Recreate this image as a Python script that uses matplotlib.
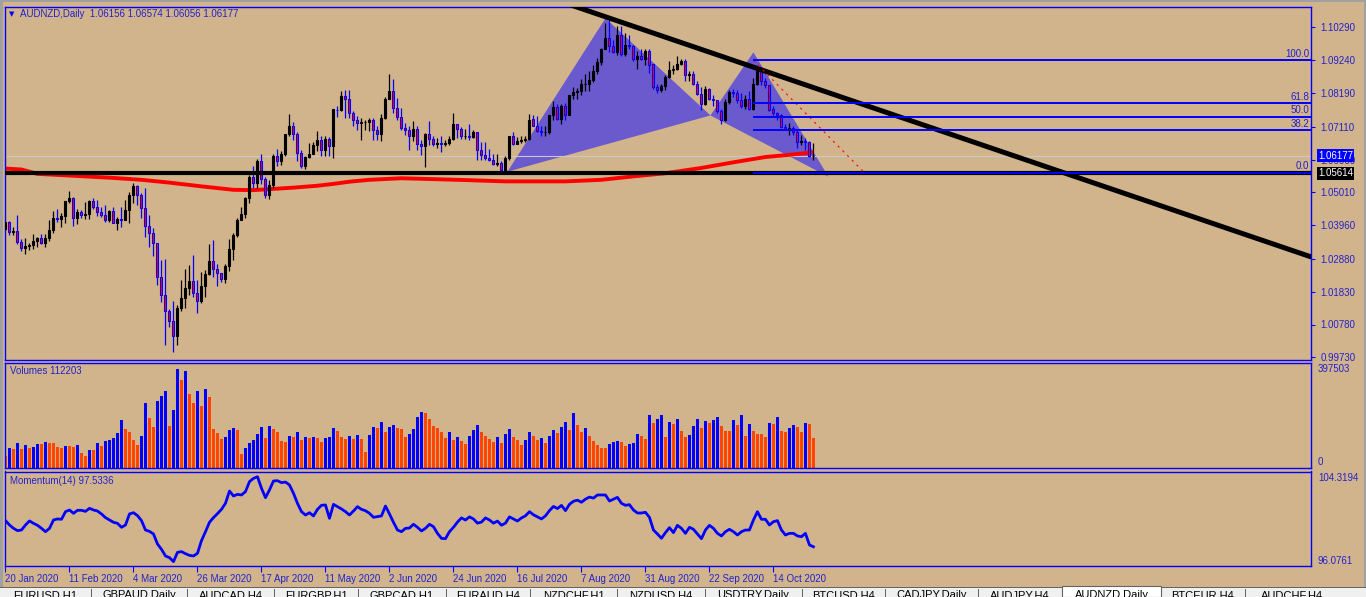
import numpy as np
import matplotlib.pyplot as plt
from matplotlib.patches import Polygon, Rectangle

plt.rcParams['font.family'] = ['Liberation Sans', 'DejaVu Sans']

# AUDNZD daily candles, 20 Jan 2020 .. 28 Oct 2020 (open = previous close)
first_open = 1.0383
closes = [
    1.0405, 1.0375, 1.0377, 1.0343, 1.0324, 1.0329, 1.0332, 1.0345, 1.0354, 1.0340,
    1.0356, 1.0380, 1.0418, 1.0416, 1.0425, 1.0473, 1.0484, 1.0420, 1.0439, 1.0427,
    1.0431, 1.0473, 1.0455, 1.0439, 1.0428, 1.0412, 1.0441, 1.0404, 1.0415, 1.0411,
    1.0444, 1.0493, 1.0522, 1.0493, 1.0450, 1.0394, 1.0372, 1.0340, 1.0230, 1.0172,
    1.0121, 1.0089, 1.0040, 1.0132, 1.0164, 1.0196, 1.0217, 1.0180, 1.0153, 1.0201,
    1.0241, 1.0281, 1.0257, 1.0244, 1.0223, 1.0265, 1.0321, 1.0364, 1.0412, 1.0432,
    1.0482, 1.0551, 1.0530, 1.0602, 1.0543, 1.0493, 1.0525, 1.0618, 1.0600, 1.0624,
    1.0688, 1.0714, 1.0688, 1.0626, 1.0586, 1.0614, 1.0624, 1.0653, 1.0669, 1.0635,
    1.0671, 1.0648, 1.0766, 1.0763, 1.0810, 1.0800, 1.0755, 1.0733, 1.0723, 1.0725,
    1.0725, 1.0733, 1.0701, 1.0688, 1.0739, 1.0800, 1.0826, 1.0771, 1.0742, 1.0707,
    1.0701, 1.0682, 1.0703, 1.0656, 1.0650, 1.0689, 1.0672, 1.0656, 1.0659, 1.0656,
    1.0659, 1.0672, 1.0718, 1.0704, 1.0680, 1.0680, 1.0678, 1.0693, 1.0637, 1.0621,
    1.0611, 1.0605, 1.0592, 1.0595, 1.0571, 1.0611, 1.0680, 1.0656, 1.0666, 1.0670,
    1.0672, 1.0734, 1.0714, 1.0696, 1.0693, 1.0695, 1.0747, 1.0773, 1.0736, 1.0777,
    1.0747, 1.0811, 1.0821, 1.0825, 1.0848, 1.0849, 1.0860, 1.0889, 1.0918, 1.0961,
    1.0996, 1.0969, 1.0950, 1.1003, 1.0942, 1.0971, 1.0969, 1.0928, 1.0937, 1.0928,
    1.0953, 1.0910, 1.0839, 1.0828, 1.0841, 1.0871, 1.0894, 1.0896, 1.0913, 1.0921,
    1.0875, 1.0878, 1.0849, 1.0817, 1.0782, 1.0830, 1.0800, 1.0796, 1.0760, 1.0734,
    1.0789, 1.0821, 1.0819, 1.0796, 1.0777, 1.0798, 1.0768, 1.0849, 1.0889, 1.0857,
    1.0843, 1.0766, 1.0755, 1.0747, 1.0710, 1.0704, 1.0708, 1.0693, 1.0661, 1.0666,
    1.0663, 1.06156, 1.06177,
]
highs = [
    1.0407, 1.0409, 1.0391, 1.0428, 1.0351, 1.0354, 1.0340, 1.0367, 1.0359, 1.0367,
    1.0367, 1.0412, 1.0441, 1.0448, 1.0434, 1.0473, 1.0505, 1.0487, 1.0448, 1.0444,
    1.0471, 1.0477, 1.0482, 1.0477, 1.0455, 1.0461, 1.0444, 1.0455, 1.0421, 1.0455,
    1.0477, 1.0503, 1.0532, 1.0525, 1.0498, 1.0514, 1.0428, 1.0386, 1.0337, 1.0286,
    1.0287, 1.0129, 1.0153, 1.0140, 1.0220, 1.0257, 1.0268, 1.0300, 1.0220, 1.0247,
    1.0252, 1.0334, 1.0348, 1.0273, 1.0241, 1.0273, 1.0351, 1.0372, 1.0420, 1.0455,
    1.0487, 1.0557, 1.0584, 1.0608, 1.0624, 1.0551, 1.0541, 1.0624, 1.0639, 1.0632,
    1.0688, 1.0753, 1.0725, 1.0693, 1.0635, 1.0616, 1.0658, 1.0661, 1.0698, 1.0680,
    1.0682, 1.0678, 1.0766, 1.0778, 1.0826, 1.0830, 1.0828, 1.0762, 1.0744, 1.0739,
    1.0731, 1.0739, 1.0739, 1.0714, 1.0753, 1.0806, 1.0880, 1.0862, 1.0803, 1.0771,
    1.0723, 1.0712, 1.0728, 1.0712, 1.0670, 1.0691, 1.0728, 1.0682, 1.0675, 1.0682,
    1.0670, 1.0680, 1.0755, 1.0721, 1.0710, 1.0704, 1.0718, 1.0702, 1.0680, 1.0661,
    1.0662, 1.0640, 1.0623, 1.0625, 1.0600, 1.0616, 1.0682, 1.0693, 1.0677, 1.0680,
    1.0680, 1.0753, 1.0747, 1.0744, 1.0712, 1.0714, 1.0750, 1.0793, 1.0782, 1.0782,
    1.0787, 1.0814, 1.0839, 1.0835, 1.0862, 1.0878, 1.0889, 1.0910, 1.0932, 1.0964,
    1.1044, 1.1055, 1.0990, 1.1033, 1.1033, 1.1012, 1.1003, 1.0974, 1.0953, 1.0958,
    1.0958, 1.0958, 1.0910, 1.0849, 1.0849, 1.0875, 1.0921, 1.0910, 1.0937, 1.0928,
    1.0928, 1.0889, 1.0889, 1.0857, 1.0839, 1.0841, 1.0835, 1.0811, 1.0793, 1.0768,
    1.0798, 1.0830, 1.0832, 1.0830, 1.0819, 1.0814, 1.0825, 1.0867, 1.0905, 1.0900,
    1.0867, 1.0846, 1.0777, 1.0757, 1.0753, 1.0718, 1.0723, 1.0712, 1.0699, 1.0686,
    1.0675, 1.0664, 1.06574,
]
lows = [
    1.0380, 1.0364, 1.0364, 1.0335, 1.0313, 1.0303, 1.0318, 1.0321, 1.0327, 1.0335,
    1.0327, 1.0346, 1.0370, 1.0405, 1.0391, 1.0402, 1.0466, 1.0394, 1.0400, 1.0418,
    1.0416, 1.0415, 1.0447, 1.0426, 1.0423, 1.0407, 1.0407, 1.0402, 1.0380, 1.0391,
    1.0423, 1.0404, 1.0466, 1.0461, 1.0420, 1.0359, 1.0327, 1.0297, 1.0204, 1.0150,
    1.0014, 1.0070, 0.9990, 1.0011, 1.0121, 1.0131, 1.0172, 1.0166, 1.0115, 1.0147,
    1.0166, 1.0236, 1.0230, 1.0201, 1.0214, 1.0211, 1.0250, 1.0284, 1.0359, 1.0412,
    1.0420, 1.0466, 1.0514, 1.0514, 1.0528, 1.0482, 1.0479, 1.0514, 1.0586, 1.0589,
    1.0618, 1.0682, 1.0669, 1.0600, 1.0578, 1.0575, 1.0610, 1.0626, 1.0632, 1.0616,
    1.0616, 1.0616, 1.0610, 1.0742, 1.0760, 1.0739, 1.0739, 1.0714, 1.0699, 1.0667,
    1.0701, 1.0696, 1.0669, 1.0669, 1.0664, 1.0736, 1.0806, 1.0755, 1.0733, 1.0699,
    1.0685, 1.0637, 1.0664, 1.0635, 1.0621, 1.0582, 1.0653, 1.0648, 1.0643, 1.0629,
    1.0648, 1.0653, 1.0667, 1.0675, 1.0672, 1.0673, 1.0669, 1.0675, 1.0605, 1.0603,
    1.0603, 1.0600, 1.0589, 1.0584, 1.0568, 1.0570, 1.0605, 1.0653, 1.0655, 1.0659,
    1.0662, 1.0667, 1.0712, 1.0693, 1.0682, 1.0680, 1.0689, 1.0734, 1.0734, 1.0718,
    1.0734, 1.0766, 1.0800, 1.0798, 1.0814, 1.0825, 1.0825, 1.0854, 1.0881, 1.0910,
    1.0958, 1.0950, 1.0948, 1.0939, 1.0937, 1.0937, 1.0961, 1.0921, 1.0896, 1.0926,
    1.0907, 1.0884, 1.0832, 1.0819, 1.0821, 1.0830, 1.0867, 1.0881, 1.0894, 1.0910,
    1.0857, 1.0857, 1.0846, 1.0814, 1.0766, 1.0779, 1.0796, 1.0776, 1.0755, 1.0718,
    1.0728, 1.0782, 1.0806, 1.0787, 1.0771, 1.0768, 1.0764, 1.0766, 1.0843, 1.0846,
    1.0835, 1.0760, 1.0746, 1.0734, 1.0707, 1.0699, 1.0686, 1.0686, 1.0643, 1.0653,
    1.0637, 1.0613, 1.06056,
]
volumes = [
    45400, 75700, 70700, 93400, 70700, 85800, 75700, 79500, 89600, 89600,
    97200, 93400, 93400, 78200, 74500, 82000, 82000, 78200, 85800, 55500,
    44200, 66900, 66900, 93400, 82000, 101000, 104700, 112300, 131200, 180500,
    146400, 135000, 104700, 85800, 119900, 244800, 188000, 154000, 252400, 271300,
    290300, 157800, 218300, 373600, 331900, 366000, 278900, 244800, 290300, 233500,
    297800, 267500, 146400, 131200, 108500, 116100, 142600, 150200, 142600, 51700,
    74500, 93400, 104700, 127500, 154000, 112300, 157800, 146400, 135000, 101000,
    97200, 119900, 116100, 135000, 104700, 116100, 112300, 116100, 112300, 97200,
    112300, 116100, 150200, 138800, 116100, 108500, 119900, 108500, 123700, 108500,
    59300, 123700, 154000, 150200, 172900, 135000, 154000, 161500, 150200, 146400,
    116100, 127500, 146400, 191800, 210800, 207000, 184300, 157800, 150200, 135000,
    112300, 135000, 104900, 116200, 101100, 89700, 120000, 142700, 161700, 135200,
    120000, 108700, 97300, 116200, 93500, 127600, 146500, 116200, 104900, 85900,
    104900, 135200, 120000, 104900, 112400, 93500, 120000, 142700, 131400, 154100,
    173000, 142700, 207100, 161700, 135200, 150300, 120000, 101100, 85900, 74500,
    74500, 89600, 97200, 101000, 97200, 82000, 89600, 93400, 127500, 119900,
    108500, 199400, 169100, 184300, 199400, 116100, 172900, 165300, 184300, 138800,
    116100, 123700, 157800, 184300, 150200, 176700, 169100, 180500, 191800, 157800,
    138800, 138800, 180500, 161500, 199400, 119900, 165300, 138800, 127500, 127500,
    116100, 169100, 165300, 191800, 138800, 135000, 150200, 161500, 154000, 135000,
    169100, 165300, 112203,
]
momentum = [
    100.04, 99.62, 99.30, 99.08, 99.14, 99.62, 100.01, 99.78, 99.59, 99.30,
    98.98, 99.30, 100.10, 100.20, 100.17, 100.90, 101.06, 100.74, 101.03, 101.03,
    100.93, 101.22, 101.06, 100.96, 100.68, 100.33, 100.10, 99.88, 99.78, 99.40,
    99.62, 100.68, 100.80, 100.52, 100.04, 99.14, 99.01, 98.76, 97.80, 97.29,
    96.65, 96.49, 96.11, 97.00, 97.07, 96.87, 96.71, 96.65, 96.91, 98.12,
    98.98, 99.88, 100.33, 100.71, 101.12, 101.70, 102.88, 102.40, 102.56, 102.50,
    102.82, 103.78, 104.09, 104.25, 103.14, 102.24, 102.98, 103.84, 103.87, 103.68,
    103.74, 103.46, 102.66, 101.70, 100.90, 100.58, 100.80, 100.49, 101.12, 101.51,
    101.54, 100.26, 101.60, 101.38, 101.16, 100.90, 100.58, 100.96, 101.38, 101.12,
    100.99, 100.74, 100.36, 100.42, 100.49, 101.44, 100.68, 99.88, 99.14, 98.98,
    99.30, 99.33, 99.69, 99.40, 99.05, 99.30, 99.69, 99.46, 98.82, 98.34,
    98.31, 98.98, 99.40, 99.90, 100.30, 100.10, 100.40, 100.20, 99.80, 99.90,
    100.30, 100.10, 99.80, 100.00, 99.60, 99.80, 100.40, 100.20, 100.00, 100.30,
    100.50, 100.90, 100.60, 100.40, 100.20, 100.50, 101.00, 101.40, 101.20, 101.50,
    101.00, 101.60, 101.90, 102.00, 101.80, 102.10, 102.30, 102.20, 102.50, 102.50,
    102.50, 101.92, 102.10, 102.27, 101.70, 101.51, 101.57, 101.06, 100.77, 100.77,
    100.84, 100.36, 99.14, 98.76, 98.35, 98.89, 99.37, 98.89, 99.59, 99.30,
    98.82, 99.40, 99.21, 98.76, 98.31, 99.14, 99.59, 99.30, 98.82, 98.57,
    98.98, 99.21, 98.98, 98.66, 98.98, 99.14, 99.14, 100.10, 100.90, 100.17,
    100.17, 99.62, 99.94, 100.04, 99.14, 98.66, 98.82, 98.82, 98.57, 98.50,
    98.82, 97.71, 97.5336,
]
# moving average, read at a few bars
ma_bars = [0, 4, 8, 17, 27, 34, 41, 49, 57, 62, 67, 72, 78, 82, 86, 91, 99,
           113, 125, 140, 149, 157, 165, 174, 182, 190, 196, 202]
ma_values = [1.0577, 1.0574, 1.0560, 1.0554, 1.0547, 1.0541, 1.0532, 1.0520,
             1.0509, 1.0508, 1.0512, 1.0516, 1.0522, 1.0528, 1.0535, 1.0541,
             1.0546, 1.0541, 1.0536, 1.0536, 1.0541, 1.0552, 1.0562, 1.0579,
             1.0597, 1.0614, 1.0621, 1.0629]

date_labels = ['20 Jan 2020', '11 Feb 2020', '4 Mar 2020', '26 Mar 2020',
               '17 Apr 2020', '11 May 2020', '2 Jun 2020', '24 Jun 2020',
               '16 Jul 2020', '7 Aug 2020', '31 Aug 2020', '22 Sep 2020',
               '14 Oct 2020']
price_ticks = [1.10290, 1.09240, 1.08190, 1.07110, 1.06060, 1.05010,
               1.03960, 1.02880, 1.01830, 1.00780, 0.99730]

# drawn objects
support = 1.05614
last_price = 1.06177
trend_bars = [140.75, 326.5]
trend_prices = [1.1103, 1.0294]
harmonic_bars = [125.5, 150.0, 176.25, 187.0, 205.75]
harmonic_prices = [1.0567, 1.1058, 1.0747, 1.0949, 1.0551]
fib_levels = [0.0, 38.2, 50.0, 61.8, 100.0]
fib_low, fib_high = 1.0564, 1.0923
fib_start = 187
proj_bars = [187, 214.5]
proj_prices = [1.0923, 1.0567]

tabs = ['EURUSD,H1', 'GBPAUD,Daily', 'AUDCAD,H4', 'EURGBP,H1', 'GBPCAD,H1',
        'EURAUD,H4', 'NZDCHF,H1', 'NZDUSD,H4', 'USDTRY,Daily', 'BTCUSD,H4',
        'CADJPY,Daily', 'AUDJPY,H4', 'AUDNZD,Daily', 'BTCEUR,H4', 'AUDCHF,H4']
tab_edges = [0, 91, 187, 274, 358, 446, 530, 617, 705, 802, 885, 978,
             1062, 1161, 1245, 1340]
active_tab = 12

TAN = '#d2b48c'
BLUE = '#0000ff'
TXT = '#2222cc'

W, H = 1366, 597
L, R = 4.5, 1311


def rect(top, bottom):
    return [L / W, 1 - bottom / H, (R - L) / W, (bottom - top) / H]


fig = plt.figure(figsize=(W / 100, H / 100), dpi=100, facecolor=TAN)
ax = fig.add_axes(rect(7, 360))
axv = fig.add_axes(rect(363, 467.5))
axm = fig.add_axes(rect(471.5, 566))

n = len(closes)
x = np.arange(n)
for a in (ax, axv, axm):
    a.set_facecolor(TAN)
    a.set_xlim(-0.25, 326.4)
    for s in a.spines.values():
        s.set_color(BLUE)
        s.set_linewidth(1.0)
    a.set_xticks([])
    a.set_yticks([])

# ---- price pane ----
closes = np.array(closes)
opens = np.concatenate([[first_open], closes[:-1]])
highs = np.maximum(np.array(highs), np.maximum(opens, closes))
lows = np.minimum(np.array(lows), np.minimum(opens, closes))
up = closes >= opens
dn = ~up

ax.set_ylim(0.99644, 1.10940)
ax.add_patch(Polygon(list(zip(harmonic_bars[:3], harmonic_prices[:3])),
                     closed=True, fc='#6a5acd', ec='none', zorder=1))
ax.add_patch(Polygon(list(zip(harmonic_bars[2:], harmonic_prices[2:])),
                     closed=True, fc='#6a5acd', ec='none', zorder=1))
ax.axhline(last_price, color='#c8c8c8', lw=0.8, zorder=1.5)
ax.plot(ma_bars, ma_values, color='#ff0000', lw=2.8, zorder=2,
        solid_capstyle='butt')

ax.vlines(x[up], lows[up], highs[up], color='black', lw=0.9, zorder=3)
ax.vlines(x[dn], lows[dn], highs[dn], color=BLUE, lw=0.9, zorder=3)
ax.bar(x[up], closes[up] - opens[up], bottom=opens[up], width=0.5,
       color='black', edgecolor='black', lw=0.8, zorder=3.5)
ax.bar(x[dn], opens[dn] - closes[dn], bottom=closes[dn], width=0.5,
       color='#ff0000', edgecolor=BLUE, lw=0.8, zorder=3.5)

ax.axhline(support, color='black', lw=3.0, zorder=4)
ax.plot(trend_bars, trend_prices, color='black', lw=3.6, zorder=4,
        solid_capstyle='butt')
fib_prices = [fib_low + (fib_high - fib_low) * f / 100 for f in fib_levels]
ax.hlines(fib_prices, fib_start, 326.4, color=BLUE, lw=1.4, zorder=4.2)
for f, p in zip(fib_levels, fib_prices):
    ax.text(325.9, p + 0.0004, f'{f:.1f}', ha='right', va='bottom',
            fontsize=7, color=TXT, zorder=5)
ax.plot(proj_bars, proj_prices, color='#ff0000', lw=0.8, ls=(0, (2, 4)),
        zorder=4.1)

ax.yaxis.tick_right()
ax.set_yticks(price_ticks)
ax.set_yticklabels([f'{t:.5f}' for t in price_ticks])
ax.tick_params(axis='y', colors=BLUE, labelcolor=TXT, length=3, width=0.8,
               pad=4, labelsize=7)
off = 1 + 7 / (R - L)
ax.text(off, last_price, f'{last_price:.5f}', transform=ax.get_yaxis_transform(),
        ha='left', va='center', fontsize=7, color='white', clip_on=False,
        bbox=dict(boxstyle='square,pad=0.15', fc=BLUE, ec='none'), zorder=6)
ax.text(off, support, f'{support:.5f}', transform=ax.get_yaxis_transform(),
        ha='left', va='center', fontsize=7, color='white', clip_on=False,
        bbox=dict(boxstyle='square,pad=0.15', fc='black', ec='none'), zorder=6)

ax.text(4 / (R - L), 1 - 7 / 353, '\u25bc', transform=ax.transAxes,
        family='DejaVu Sans', fontsize=5, color=BLUE, ha='left', va='center')
ax.text(15 / (R - L), 1 - 7 / 353,
        'AUDNZD,Daily  %.5f %.5f %.5f %.5f' % (opens[-1], highs[-1], lows[-1], closes[-1]),
        transform=ax.transAxes, fontsize=7, color=TXT, ha='left', va='center')

# ---- volume pane ----
volumes = np.array(volumes)
vcol = ['#ff4500'] + [BLUE if volumes[i] > volumes[i - 1] else '#ff4500'
                      for i in range(1, n)]
axv.bar(x, volumes, width=0.7, color=vcol, lw=0)
axv.set_ylim(0, 397503)
axv.text(5.5 / (R - L), 1 - 8 / 104.5, 'Volumes %d' % volumes[-1],
         transform=axv.transAxes, fontsize=7, color=TXT, ha='left', va='center')
fig.text(1318 / W, 1 - 369 / H, '397503', fontsize=7, color=TXT, va='center')
fig.text(1318 / W, 1 - 462 / H, '0', fontsize=7, color=TXT, va='center')

# ---- momentum pane ----
axm.plot(x, momentum, color=BLUE, lw=2.0)
axm.set_ylim(95.69, 104.75)
axm.text(5.5 / (R - L), 1 - 9 / 94.5, 'Momentum(14) %.4f' % momentum[-1],
         transform=axm.transAxes, fontsize=7, color=TXT, ha='left', va='center')
fig.text(1318 / W, 1 - 478 / H, '104.3194', fontsize=7, color=TXT, va='center')
fig.text(1318 / W, 1 - 561 / H, '96.0761', fontsize=7, color=TXT, va='center')
axm.set_xticks(np.arange(len(date_labels)) * 16)
axm.set_xticklabels(date_labels, ha='left')
axm.tick_params(axis='x', colors=BLUE, labelcolor=TXT, length=4, width=0.8,
                pad=2, labelsize=7)

# ---- window frame and tabs ----
fig.add_artist(Rectangle((0, 0), 2.5 / W, 1, transform=fig.transFigure,
                         fc='#a0a0a0', ec='none'))
fig.add_artist(Rectangle((0, 1 - 1.5 / H), 1, 1.5 / H, transform=fig.transFigure,
                         fc='#a0a0a0', ec='none'))
fig.add_artist(Rectangle((1 - 2.5 / W, 0), 2.5 / W, 1, transform=fig.transFigure,
                         fc='#a0a0a0', ec='none'))
fig.add_artist(Rectangle((0, 0), 1, 10 / H, transform=fig.transFigure,
                         fc='#f0f0f0', ec='none'))
fig.add_artist(Rectangle((0, 9.5 / H), 1, 1 / H, transform=fig.transFigure,
                         fc='#646464', ec='none'))
for i, name in enumerate(tabs):
    x0, x1 = tab_edges[i], tab_edges[i + 1]
    if i == active_tab:
        fig.add_artist(Rectangle((x0 / W, 0), (x1 - x0) / W, 11 / H,
                                 transform=fig.transFigure, fc='white',
                                 ec='#646464', lw=0.8))
    elif i > 0:
        fig.add_artist(Rectangle((x0 / W, 0), 1 / W, 8 / H,
                                 transform=fig.transFigure, fc='#646464', ec='none'))
    fig.text((x0 + x1) / 2 / W, 1 - 590 / H, name, fontsize=8, color='black',
             ha='center', va='top')

fig.savefig('out.png', dpi=100, facecolor=TAN)
